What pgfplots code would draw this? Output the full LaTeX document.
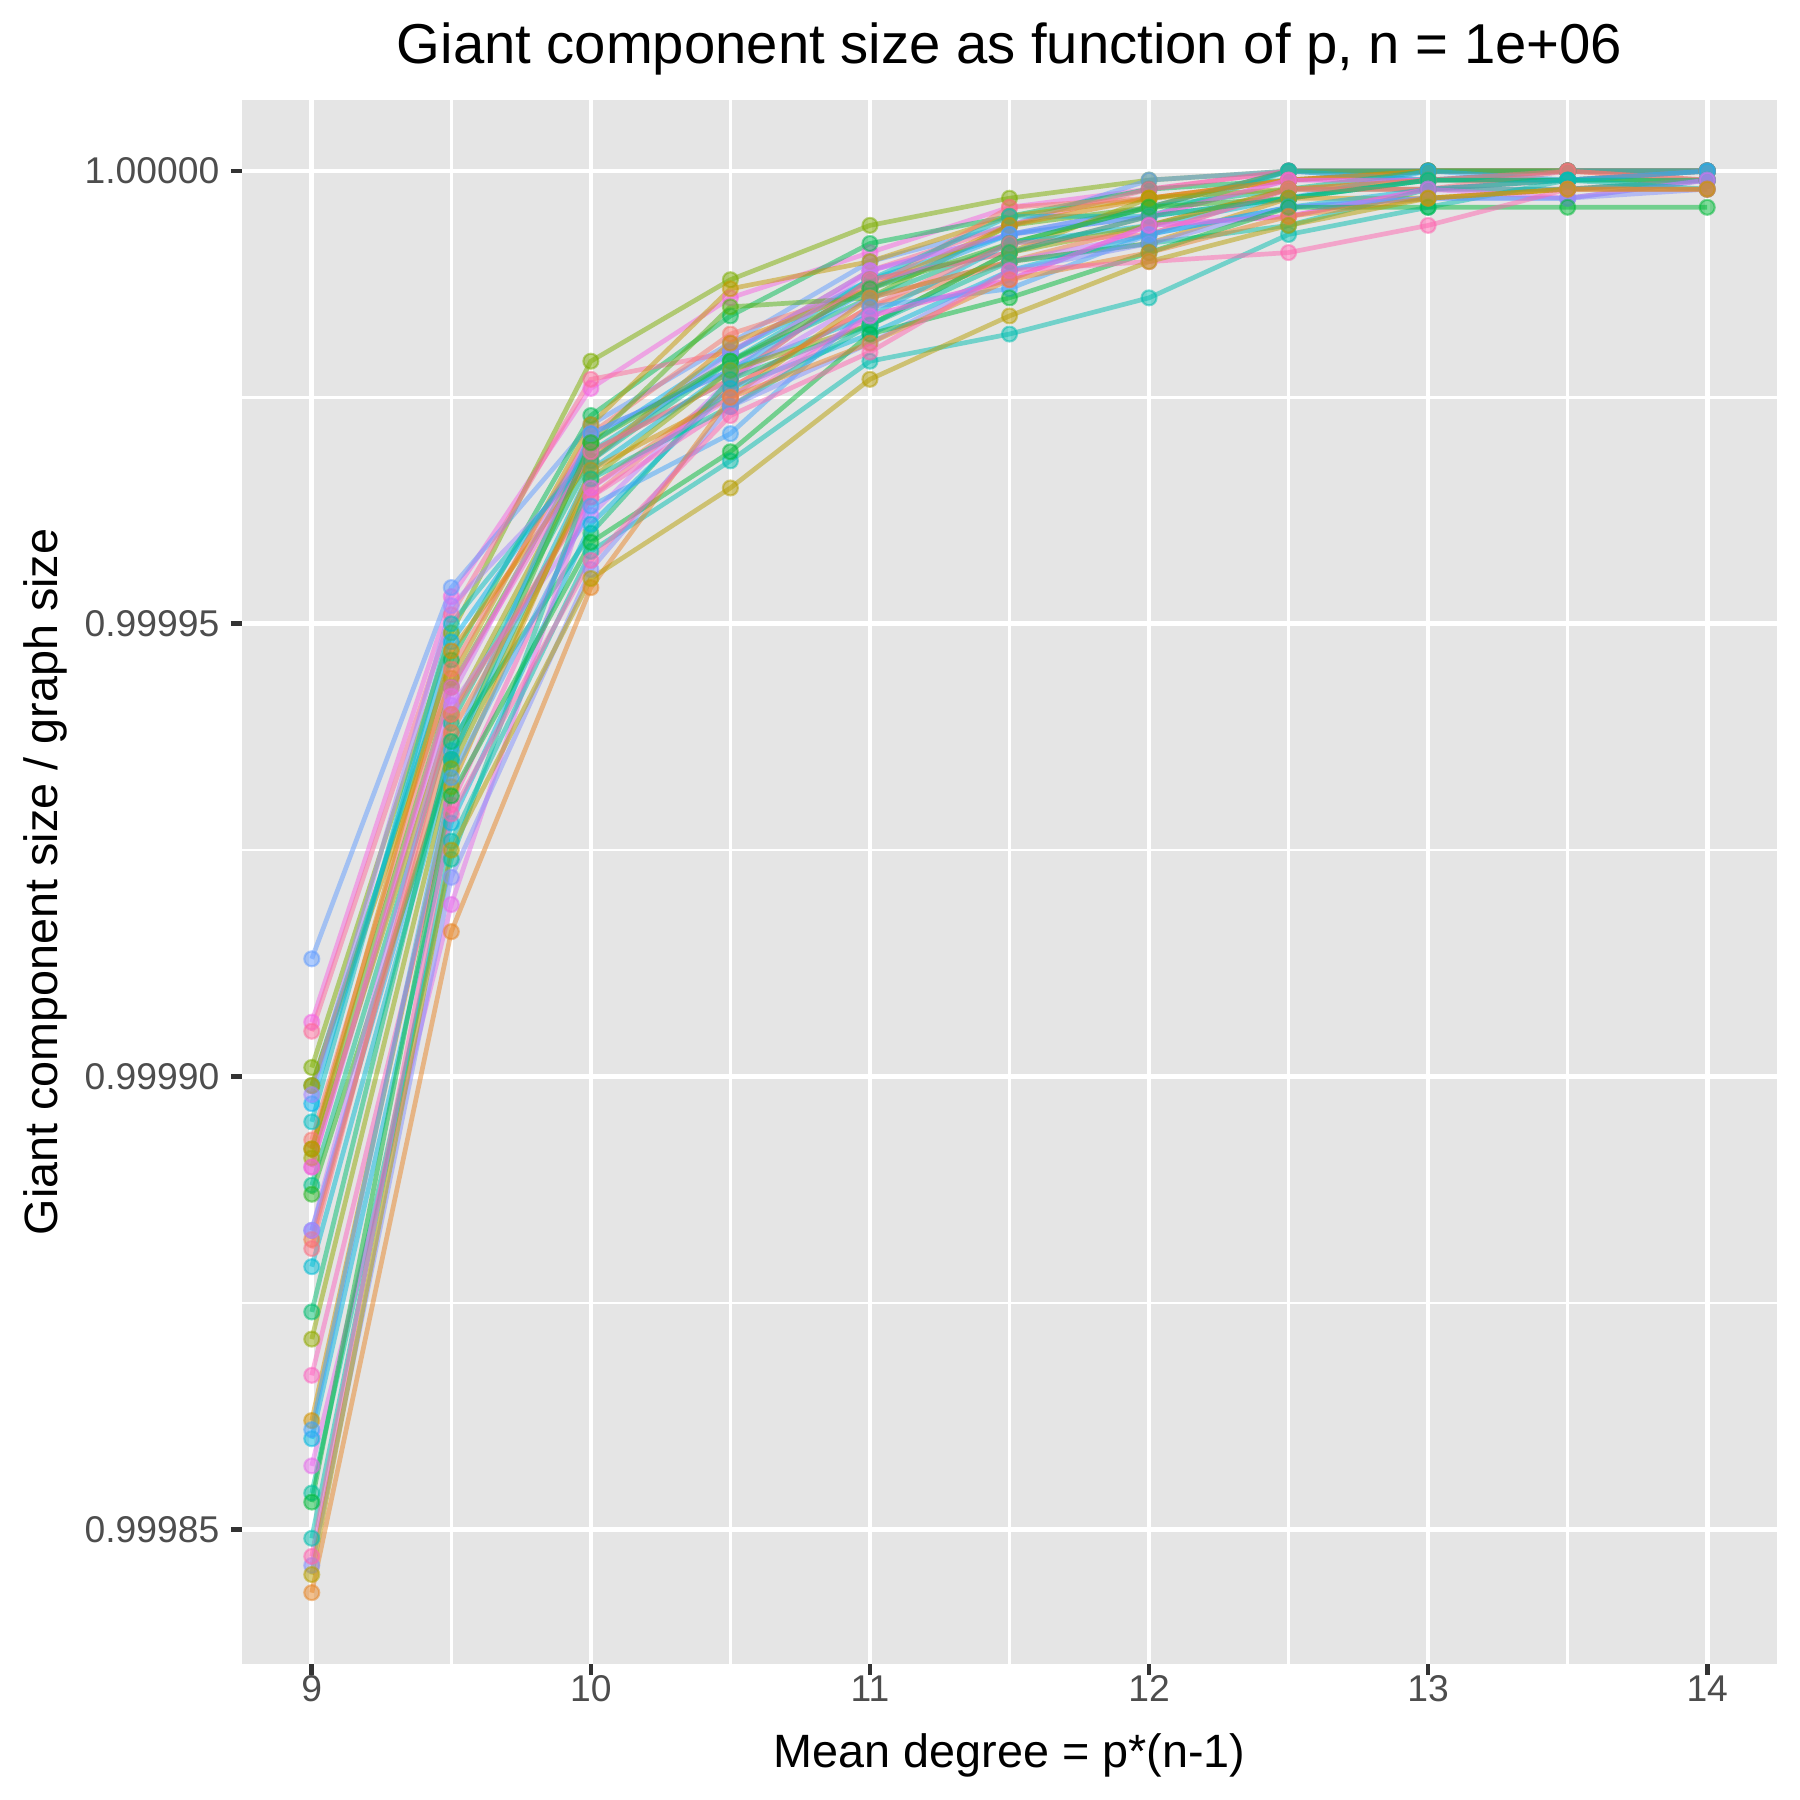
\documentclass[border=0pt]{standalone}
\usepackage{fontspec}
\setmainfont{Liberation Sans}
\usepackage{pgfplots}
\pgfplotsset{compat=1.18}
\usepackage{pgfplotstable}

\definecolor{A0}{HTML}{F8766D}
\definecolor{A1}{HTML}{DE8C00}
\definecolor{A2}{HTML}{B79F00}
\definecolor{A3}{HTML}{7CAE00}
\definecolor{A4}{HTML}{00BA38}
\definecolor{A5}{HTML}{00C08B}
\definecolor{A6}{HTML}{00BFC4}
\definecolor{A7}{HTML}{00B4F0}
\definecolor{A8}{HTML}{619CFF}
\definecolor{A9}{HTML}{C77CFF}
\definecolor{A10}{HTML}{F564E3}
\definecolor{A11}{HTML}{FF64B0}
\colorlet{j0}{A0}\colorlet{j1}{A0!67!A1}\colorlet{j2}{A0!33!A1}
\colorlet{j3}{A1}\colorlet{j4}{A1!67!A2}\colorlet{j5}{A1!33!A2}
\colorlet{j6}{A2}\colorlet{j7}{A2!67!A3}\colorlet{j8}{A2!33!A3}
\colorlet{j9}{A3}\colorlet{j10}{A3!67!A4}\colorlet{j11}{A3!33!A4}
\colorlet{j12}{A4}\colorlet{j13}{A4!67!A5}\colorlet{j14}{A4!33!A5}
\colorlet{j15}{A5}\colorlet{j16}{A5!67!A6}\colorlet{j17}{A5!33!A6}
\colorlet{j18}{A6}\colorlet{j19}{A6!67!A7}\colorlet{j20}{A6!33!A7}
\colorlet{j21}{A7}\colorlet{j22}{A7!67!A8}\colorlet{j23}{A7!33!A8}
\colorlet{j24}{A8}\colorlet{j25}{A8!67!A9}\colorlet{j26}{A8!33!A9}
\colorlet{j27}{A9}\colorlet{j28}{A9!67!A10}\colorlet{j29}{A9!33!A10}
\colorlet{j30}{A10}\colorlet{j31}{A10!67!A11}\colorlet{j32}{A10!33!A11}
\colorlet{j33}{A11}\colorlet{j34}{A11!67!A0}\colorlet{j35}{A11!33!A0}

\colorlet{sc1}{j30}\colorlet{sc2}{j9}\colorlet{sc3}{j24}\colorlet{sc4}{j13}
\colorlet{sc5}{j34}\colorlet{sc6}{j5}\colorlet{sc7}{j21}\colorlet{sc8}{j0}
\colorlet{sc9}{j26}\colorlet{sc10}{j10}\colorlet{sc11}{j18}\colorlet{sc12}{j3}
\colorlet{sc13}{j28}\colorlet{sc14}{j15}\colorlet{sc15}{j7}\colorlet{sc16}{j22}
\colorlet{sc17}{j31}\colorlet{sc18}{j11}\colorlet{sc19}{j1}\colorlet{sc20}{j19}
\colorlet{sc21}{j27}\colorlet{sc22}{j8}\colorlet{sc23}{j35}\colorlet{sc24}{j14}
\colorlet{sc25}{j4}\colorlet{sc26}{j20}\colorlet{sc27}{j32}\colorlet{sc28}{j16}
\colorlet{sc29}{j23}\colorlet{sc30}{j29}\colorlet{sc31}{j17}\colorlet{sc32}{j25}
\colorlet{sc33}{j12}\colorlet{sc34}{j2}\colorlet{sc35}{j33}\colorlet{sc36}{j6}

\definecolor{panelbg}{HTML}{E5E5E5}
\definecolor{ticktext}{HTML}{4D4D4D}
\definecolor{tickmark}{HTML}{333333}

% y = (giant component size / graph size - 1) * 1e6
\pgfplotstableread{
x s1 s2 s3 s4 s5 s6 s7 s8 s9 s10 s11 s12 s13 s14 s15 s16 s17 s18 s19 s20 s21 s22 s23 s24 s25 s26 s27 s28 s29 s30 s31 s32 s33 s34 s35 s36
9 -94 -99 -87 -101 -95 -101 -103 -107 -102 -108 -105 -108 -110 -112 -109 -117 -110 -113 -118 -121 -117 -129 -119 -126 -138 -140 -133 -146 -139 -143 -151 -154 -147 -157 -153 -155
9.5 -47 -51 -46 -54 -49 -56 -52 -55 -48 -57 -50 -53 -58 -61 -60 -64 -57 -65 -62 -65 -59 -66 -60 -63 -68 -72 -70 -76 -67 -81 -74 -78 -69 -84 -71 -75
10 -24 -21 -28 -27 -23 -28 -30 -29 -32 -30 -31 -32 -29 -32 -31 -29 -31 -30 -35 -33 -38 -34 -36 -40 -33 -39 -36 -34 -37 -35 -42 -44 -41 -46 -43 -45
10.5 -14 -12 -19 -16 -20 -13 -20 -18 -20 -15 -21 -19 -22 -21 -23 -22 -23 -21 -24 -22 -23 -22 -24 -23 -25 -24 -26 -26 -29 -25 -32 -26 -31 -25 -27 -35
11 -9 -6 -10 -8 -11 -10 -12 -13 -11 -14 -12 -13 -11 -14 -12 -13 -12 -13 -15 -16 -14 -17 -15 -17 -14 -18 -16 -17 -15 -16 -21 -19 -18 -19 -20 -23
11.5 -4 -3 -6 -5 -6 -5 -7 -4 -7 -6 -5 -6 -7 -8 -9 -7 -9 -8 -10 -8 -10 -9 -8 -9 -10 -11 -12 -10 -13 -12 -18 -11 -14 -12 -11 -16
12 -2 -1 -1 -2 -2 -3 -4 -3 -4 -4 -5 -3 -5 -4 -3 -5 -5 -4 -6 -6 -7 -6 -7 -5 -8 -7 -6 -8 -7 -6 -14 -8 -9 -9 -10 -10
12.5 0 0 0 -1 0 -1 0 -1 0 0 0 -1 -1 -2 -2 -3 -1 -3 -2 -3 -2 -2 -2 -3 -3 -4 -5 -6 -4 -5 -7 -4 -4 -5 -9 -6
13 0 0 0 0 0 0 0 0 -1 0 -1 0 -1 0 -1 0 -1 -1 -1 -1 -2 -2 -2 -1 -3 -2 -2 -2 -3 -2 -4 -3 -4 -3 -6 -3
13.5 0 0 0 0 0 0 0 0 0 0 0 0 0 0 -1 -1 -1 -1 0 -1 -1 -1 0 -1 -2 -1 -2 -2 -3 -3 -1 -3 -4 -2 -2 -2
14 0 0 0 0 0 0 0 0 0 0 0 0 0 0 0 0 0 0 -1 -1 0 -1 -1 -1 -1 0 -1 -1 -1 -1 -2 -2 -4 -2 -2 -2
}\data

\begin{document}
\begin{tikzpicture}
\path[use as bounding box] (0,0) rectangle (18cm,18cm);
\begin{axis}[
  at={(2.42cm,1.363cm)}, anchor=south west,
  scale only axis, width=15.35cm, height=15.637cm,
  xmin=8.75, xmax=14.25, ymin=-164.85, ymax=7.85,
  axis background/.style={fill=panelbg},
  axis line style={draw=none},
  xtick={9,10,11,12,13,14},
  xticklabels={9,10,11,12,13,14},
  minor xtick={9.5,10.5,11.5,12.5,13.5},
  ytick={-150,-100,-50,0},
  yticklabels={0.99985,0.99990,0.99995,1.00000},
  minor ytick={-125,-75,-25},
  grid=both,
  major grid style={white, line width=0.047cm},
  minor grid style={white, line width=0.024cm},
  tick align=outside, tick pos=left,
  major tick length=0.11cm, minor tick length=0pt,
  major tick style={tickmark, line width=0.047cm},
  tick label style={font=\fontsize{10.6}{12}\selectfont, text=ticktext, inner sep=0pt},
  yticklabel style={anchor=east, xshift=-0.11cm},
  xticklabel style={anchor=north},
]
\pgfplotsinvokeforeach{1,...,36}{
  \addplot[sc#1, opacity=0.5, line width=0.047cm, no markers, forget plot] table[x=x, y=s#1]{\data};
}
\pgfplotsinvokeforeach{1,...,36}{
  \addplot[sc#1, opacity=0.5, only marks, mark=*, mark size=0.075cm, mark options={line width=0.6pt}, forget plot] table[x=x, y=s#1]{\data};
}
\end{axis}
\node[anchor=base, font=\fontsize{16}{19}\selectfont] at (10.095cm,17.36cm) {Giant component size as function of p, n = 1e+06};
\node[anchor=base, font=\fontsize{13.3}{16}\selectfont] at (10.095cm,0.33cm) {Mean degree = p*(n-1)};
\node[anchor=base, rotate=90, font=\fontsize{13.3}{16}\selectfont] at (0.58cm,9.18cm) {Giant component size / graph size};
\end{tikzpicture}
\end{document}
